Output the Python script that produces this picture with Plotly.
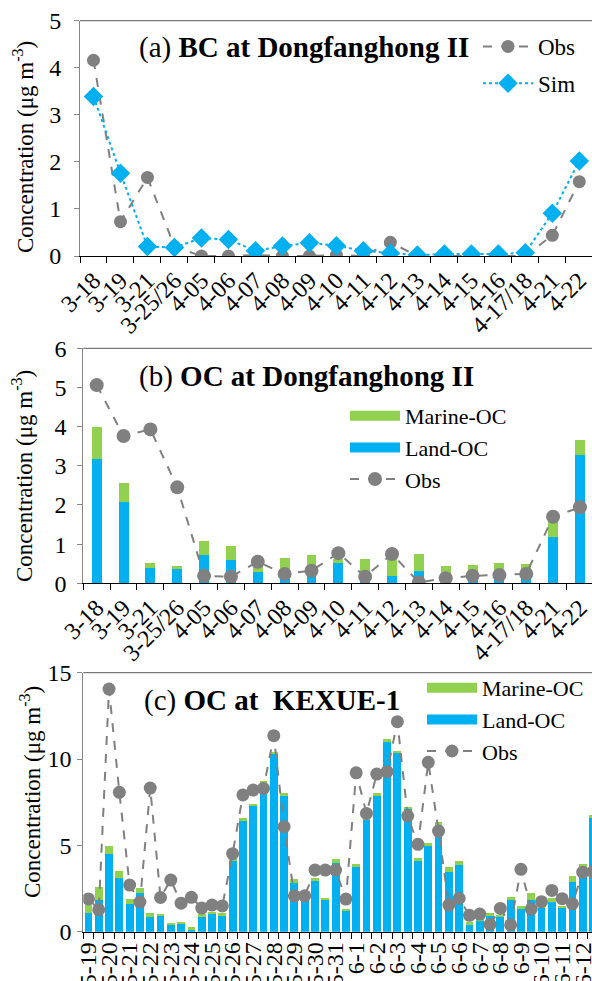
import plotly.graph_objects as go

# ---------------- data ----------------
dates_ab = ["3-18", "3-19", "3-21", "3-25/26", "4-05", "4-06", "4-07", "4-08", "4-09", "4-10",
            "4-11", "4-12", "4-13", "4-14", "4-15", "4-16", "4-17/18", "4-21", "4-22"]

# (a) BC at Dongfanghong II
bc_obs = [4.16, 0.73, 1.67, 0.20, 0.00, 0.00, 0.02, 0.00, 0.00, 0.02,
          0.00, 0.29, 0.00, 0.00, 0.00, 0.00, 0.00, 0.44, 1.58]
bc_sim = [3.39, 1.76, 0.20, 0.18, 0.38, 0.35, 0.11, 0.21, 0.28, 0.22,
          0.11, 0.06, 0.02, 0.04, 0.04, 0.04, 0.07, 0.91, 2.02]

# (b) OC at Dongfanghong II
oc_land_b = [3.17, 2.08, 0.40, 0.36, 0.72, 0.60, 0.30, 0.17, 0.47, 0.51,
             0.09, 0.19, 0.32, 0.09, 0.07, 0.10, 0.13, 1.17, 3.28]
oc_marine_b = [0.81, 0.49, 0.11, 0.08, 0.37, 0.35, 0.15, 0.47, 0.25, 0.11,
               0.52, 0.49, 0.43, 0.35, 0.40, 0.41, 0.36, 0.40, 0.38]
oc_obs_b = [5.06, 3.76, 3.93, 2.45, 0.19, 0.17, 0.55, 0.24, 0.32, 0.77,
            0.17, 0.75, 0.02, 0.13, 0.19, 0.21, 0.24, 1.70, 1.94]

# (c) OC at KEXUE-1 (two samples per labelled day)
date_labels_c = ["5-19", "5-20", "5-21", "5-22", "5-23", "5-24", "5-25", "5-26", "5-27", "5-28",
                 "5-29", "5-30", "5-31", "6-1", "6-2", "6-3", "6-4", "6-5", "6-6", "6-7",
                 "6-8", "6-9", "6-10", "6-11", "6-12"]
oc_land_c = [1.07, 1.85, 4.48, 3.13, 1.59, 2.22, 0.87, 0.97, 0.45, 0.50,
             0.16, 0.90, 1.02, 0.97, 4.15, 6.47, 7.30, 8.60, 10.27, 7.92,
             2.84, 1.98, 2.93, 1.87, 4.00, 1.22, 3.82, 6.47, 7.88, 11.00,
             10.33, 7.08, 4.11, 4.98, 6.18, 3.47, 3.86, 0.40, 0.68, 0.93,
             0.87, 1.83, 1.29, 1.83, 1.35, 1.74, 1.41, 2.85, 3.76, 6.56]
oc_marine_c = [0.48, 0.72, 0.48, 0.38, 0.28, 0.29, 0.19, 0.05, 0.04, 0.06,
               0.09, 0.10, 0.12, 0.09, 0.05, 0.09, 0.07, 0.15, 0.15, 0.09,
               0.19, 0.05, 0.20, 0.06, 0.19, 0.07, 0.10, 0.13, 0.13, 0.14,
               0.13, 0.16, 0.14, 0.17, 0.19, 0.26, 0.25, 0.15, 0.09, 0.13,
               0.10, 0.16, 0.20, 0.39, 0.14, 0.19, 0.09, 0.40, 0.14, 0.20]
oc_obs_c = [1.90, 1.27, 14.05, 8.07, 2.70, 1.72, 8.32, 1.98, 2.99, 1.65,
            1.99, 1.37, 1.54, 1.49, 4.52, 7.92, 8.20, 8.30, 11.35, 6.08,
            2.08, 2.08, 3.57, 3.57, 3.57, 1.89, 9.20, 6.85, 9.13, 9.27,
            12.16, 6.70, 5.06, 9.81, 5.83, 1.54, 1.93, 0.95, 1.02, 0.42,
            1.35, 0.39, 3.61, 1.31, 1.74, 2.39, 1.91, 1.62, 3.45, 3.47]

# ---------------- style ----------------
FONT = "Liberation Serif"
BLUE = "#00B0F0"
GREEN = "#92D050"
GRAY = "#808080"
W, H = 592, 981
TICK = 24


def px(x):
    return x / W


def py(y):
    return 1 - y / H


samples_c = list(range(len(oc_land_c)))

fig = go.Figure()

# (a)
fig.add_trace(go.Scatter(x=dates_ab, y=bc_obs, name="Obs", mode="lines+markers",
                         line=dict(color=GRAY, width=2, dash="dash"),
                         marker=dict(symbol="circle", size=13, color=GRAY),
                         xaxis="x", yaxis="y", legend="legend", legendgroup="a1"))
fig.add_trace(go.Scatter(x=dates_ab, y=bc_sim, name="Sim", mode="lines+markers",
                         line=dict(color=BLUE, width=2, dash="dot"),
                         marker=dict(symbol="diamond", size=15, color=BLUE),
                         xaxis="x", yaxis="y", legend="legend", legendgroup="a2"))

# (b)
fig.add_trace(go.Bar(x=dates_ab, y=oc_land_b, marker=dict(color=BLUE, line=dict(width=0)),
                     width=0.37, xaxis="x2", yaxis="y2", showlegend=False, name="Land-OC"))
fig.add_trace(go.Bar(x=dates_ab, y=oc_marine_b, marker=dict(color=GREEN, line=dict(width=0)),
                     width=0.37, xaxis="x2", yaxis="y2", showlegend=False, name="Marine-OC"))
fig.add_trace(go.Scatter(x=[None], y=[None], mode="lines", name="Marine-OC",
                         line=dict(color=GREEN, width=10), xaxis="x2", yaxis="y2", legend="legend2"))
fig.add_trace(go.Scatter(x=[None], y=[None], mode="lines", name="Land-OC",
                         line=dict(color=BLUE, width=10), xaxis="x2", yaxis="y2", legend="legend2"))
fig.add_trace(go.Scatter(x=dates_ab, y=oc_obs_b, name="Obs", mode="lines+markers",
                         line=dict(color=GRAY, width=2, dash="dash"),
                         marker=dict(symbol="circle", size=14, color=GRAY),
                         xaxis="x2", yaxis="y2", legend="legend2"))

# (c)
fig.add_trace(go.Bar(x=samples_c, y=oc_land_c, marker=dict(color=BLUE, line=dict(width=0)),
                     width=0.76, xaxis="x3", yaxis="y3", showlegend=False, name="Land-OC"))
fig.add_trace(go.Bar(x=samples_c, y=oc_marine_c, marker=dict(color=GREEN, line=dict(width=0)),
                     width=0.76, xaxis="x3", yaxis="y3", showlegend=False, name="Marine-OC"))
fig.add_trace(go.Scatter(x=[None], y=[None], mode="lines", name="Marine-OC",
                         line=dict(color=GREEN, width=10), xaxis="x3", yaxis="y3", legend="legend3"))
fig.add_trace(go.Scatter(x=[None], y=[None], mode="lines", name="Land-OC",
                         line=dict(color=BLUE, width=10), xaxis="x3", yaxis="y3", legend="legend3"))
fig.add_trace(go.Scatter(x=samples_c, y=oc_obs_c, name="Obs", mode="lines+markers",
                         line=dict(color=GRAY, width=2, dash="dash"),
                         marker=dict(symbol="circle", size=13, color=GRAY),
                         xaxis="x3", yaxis="y3", legend="legend3"))

tickfont = dict(family=FONT, size=TICK, color="black")
ycommon = dict(showline=True, linecolor="#868686", linewidth=1, ticks="outside", ticklen=5,
               tickcolor="#868686", showgrid=False, zeroline=False, tickfont=tickfont,
               automargin=False, fixedrange=True)
xcommon = dict(showline=True, linecolor="black", linewidth=1, showgrid=False, zeroline=False,
               tickfont=tickfont, automargin=False, fixedrange=True, ticklabeloverflow="allow")

fig.update_layout(
    width=W, height=H,
    margin=dict(l=0, r=0, t=0, b=0),
    paper_bgcolor="white", plot_bgcolor="white",
    barmode="stack",
    font=dict(family=FONT, color="black"),
    xaxis=dict(xcommon, type="category", categoryorder="array", categoryarray=dates_ab,
               tickmode="linear", tick0=0, dtick=1,
               tickson="boundaries", ticks="outside", ticklen=6, tickcolor="black",
               tickangle=-45, range=[-0.5, 18.47], domain=[px(80), 1], anchor="y"),
    yaxis=dict(ycommon, range=[0, 5], dtick=1, ticklabelstandoff=8,
               domain=[py(256), py(20.7)], anchor="x"),
    xaxis2=dict(xcommon, type="category", categoryorder="array", categoryarray=dates_ab,
                tickmode="linear", tick0=0, dtick=1,
                tickson="boundaries", ticks="outside", ticklen=6, tickcolor="black",
                tickangle=-45, range=[-0.5, 18.45], domain=[px(83.3), 1], anchor="y2"),
    yaxis2=dict(ycommon, range=[0, 6], dtick=1, ticklabelstandoff=6,
                domain=[py(583.3), py(348.3)], anchor="x2"),
    xaxis3=dict(xcommon, type="linear", range=[-0.5, 48.9], tickmode="array",
                tickvals=samples_c[::2], ticktext=date_labels_c, ticks="", tickangle=-90,
                minor=dict(tickmode="array", tickvals=[i - 0.5 for i in samples_c] + [len(samples_c) - 0.5],
                           ticks="outside", ticklen=6, tickcolor="black"),
                domain=[px(83.3), 1], anchor="y3"),
    yaxis3=dict(ycommon, range=[0, 15], dtick=5, ticklabelstandoff=1,
                domain=[py(931.7), py(672.7)], anchor="x3"),
    legend=dict(x=px(478), y=py(25), xanchor="left", yanchor="top", bgcolor="rgba(0,0,0,0)",
                font=dict(family=FONT, size=23, color="black"), itemwidth=50, tracegroupgap=4),
    legend2=dict(x=px(345), y=py(395), xanchor="left", yanchor="top", bgcolor="rgba(0,0,0,0)",
                 font=dict(family=FONT, size=22, color="black"), itemwidth=50, tracegroupgap=0),
    legend3=dict(x=px(422), y=py(667), xanchor="left", yanchor="top", bgcolor="rgba(0,0,0,0)",
                 font=dict(family=FONT, size=22, color="black"), itemwidth=50, tracegroupgap=0),
)

top_lines = [("x", "y"), ("x2", "y2"), ("x3", "y3")]
for xr, yr in top_lines:
    fig.add_shape(type="line", xref=f"{xr} domain", yref=f"{yr} domain", x0=0, x1=1, y0=1, y1=1,
                  line=dict(color="#595959", width=1))

titles = [("(a) <b>BC at Dongfanghong II</b>", 137, 48),
          ("(b) <b>OC at Dongfanghong II</b>", 136.7, 376),
          ("(c) <b>OC at\u00a0\u00a0KEXUE-1</b>", 141.7, 700)]
for text, x, y in titles:
    fig.add_annotation(text=text, x=px(x), y=py(y), xref="paper", yref="paper",
                       xanchor="left", yanchor="middle", showarrow=False,
                       font=dict(family=FONT, size=29, color="black"))

ytitles = [(23, 147), (23, 476), (30, 792)]
for x, y in ytitles:
    fig.add_annotation(text="Concentration (μg m<sup>-3</sup>)", x=px(x), y=py(y),
                       xref="paper", yref="paper", xanchor="center", yanchor="middle",
                       textangle=-90, showarrow=False,
                       font=dict(family=FONT, size=23, color="black"))

fig.write_html("out.html", config={"displayModeBar": False},
               post_script="document.body.style.margin='0';")
